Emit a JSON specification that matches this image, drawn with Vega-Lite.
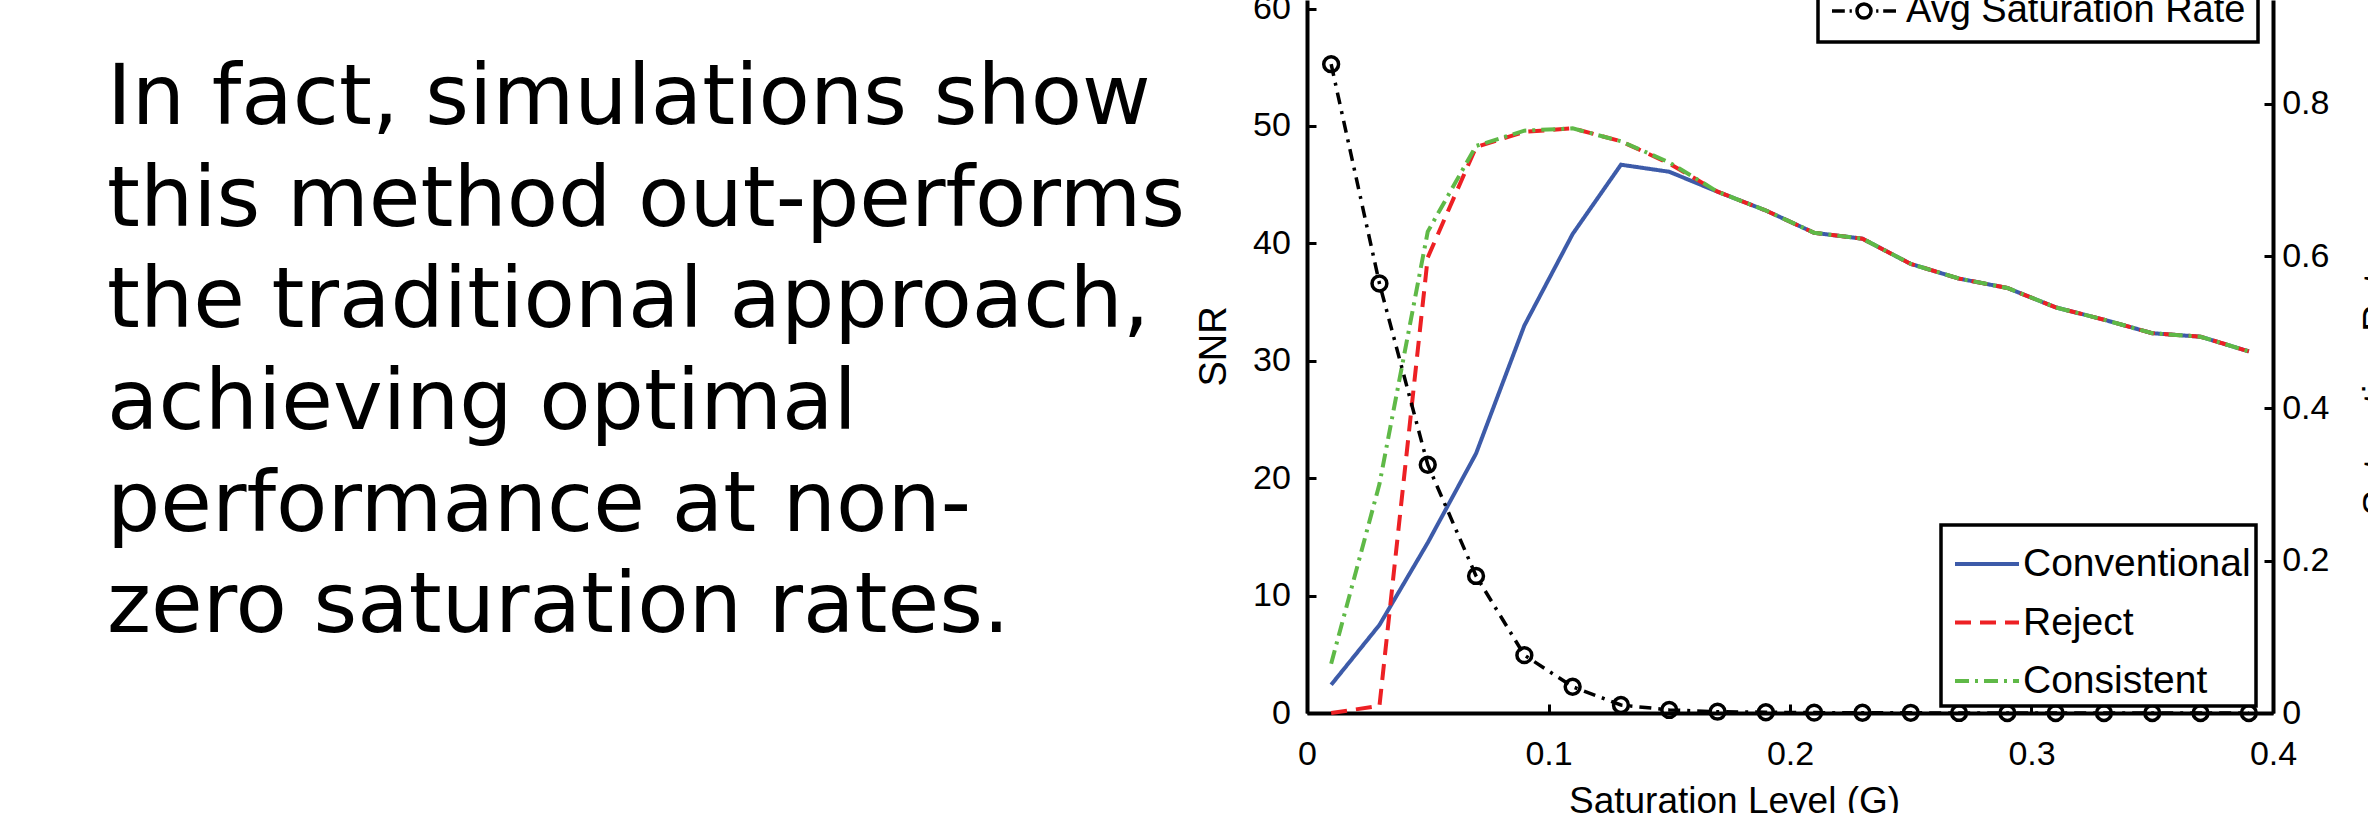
{
  "$schema": "https://vega.github.io/schema/vega-lite/v6.json",
  "width": 966,
  "height": 713,
  "autosize": {"type": "none"},
  "padding": {"left": 1307, "top": 0, "right": 95, "bottom": 100},
  "background": "white",
  "config": {"view": {"stroke": null}, "font": "Liberation Sans"},
  "title": {
    "text": ["In fact, simulations show", "this method out-performs", "the traditional approach,", "achieving optimal", "performance at non-", "zero saturation rates."],
    "anchor": "start",
    "frame": "group",
    "orient": "top",
    "offset": 0,
    "dx": -1200,
    "dy": 687,
    "baseline": "top",
    "font": "DejaVu Sans",
    "fontSize": 84,
    "fontWeight": "normal",
    "color": "black",
    "lineHeight": 101.6
  },
  "datasets": {
    "snr": [
      {"x": 0.01, "series": "Conventional", "snr": 2.4},
      {"x": 0.03, "series": "Conventional", "snr": 7.5},
      {"x": 0.05, "series": "Conventional", "snr": 14.5},
      {"x": 0.07, "series": "Conventional", "snr": 22.1},
      {"x": 0.09, "series": "Conventional", "snr": 33.0},
      {"x": 0.11, "series": "Conventional", "snr": 40.8},
      {"x": 0.13, "series": "Conventional", "snr": 46.7},
      {"x": 0.15, "series": "Conventional", "snr": 46.1},
      {"x": 0.17, "series": "Conventional", "snr": 44.4},
      {"x": 0.19, "series": "Conventional", "snr": 42.8},
      {"x": 0.21, "series": "Conventional", "snr": 40.9},
      {"x": 0.23, "series": "Conventional", "snr": 40.4},
      {"x": 0.25, "series": "Conventional", "snr": 38.25},
      {"x": 0.27, "series": "Conventional", "snr": 37.0},
      {"x": 0.29, "series": "Conventional", "snr": 36.2},
      {"x": 0.31, "series": "Conventional", "snr": 34.55},
      {"x": 0.33, "series": "Conventional", "snr": 33.5},
      {"x": 0.35, "series": "Conventional", "snr": 32.35},
      {"x": 0.37, "series": "Conventional", "snr": 32.05},
      {"x": 0.39, "series": "Conventional", "snr": 30.8},
      {"x": 0.01, "series": "Reject", "snr": 0.0},
      {"x": 0.03, "series": "Reject", "snr": 0.6},
      {"x": 0.05, "series": "Reject", "snr": 38.8},
      {"x": 0.07, "series": "Reject", "snr": 48.2},
      {"x": 0.09, "series": "Reject", "snr": 49.5},
      {"x": 0.11, "series": "Reject", "snr": 49.8},
      {"x": 0.13, "series": "Reject", "snr": 48.7},
      {"x": 0.15, "series": "Reject", "snr": 46.8},
      {"x": 0.17, "series": "Reject", "snr": 44.4},
      {"x": 0.19, "series": "Reject", "snr": 42.8},
      {"x": 0.21, "series": "Reject", "snr": 40.9},
      {"x": 0.23, "series": "Reject", "snr": 40.4},
      {"x": 0.25, "series": "Reject", "snr": 38.25},
      {"x": 0.27, "series": "Reject", "snr": 37.0},
      {"x": 0.29, "series": "Reject", "snr": 36.2},
      {"x": 0.31, "series": "Reject", "snr": 34.55},
      {"x": 0.33, "series": "Reject", "snr": 33.5},
      {"x": 0.35, "series": "Reject", "snr": 32.35},
      {"x": 0.37, "series": "Reject", "snr": 32.05},
      {"x": 0.39, "series": "Reject", "snr": 30.8},
      {"x": 0.01, "series": "Consistent", "snr": 4.2},
      {"x": 0.03, "series": "Consistent", "snr": 19.5},
      {"x": 0.05, "series": "Consistent", "snr": 41.0},
      {"x": 0.07, "series": "Consistent", "snr": 48.3},
      {"x": 0.09, "series": "Consistent", "snr": 49.6},
      {"x": 0.11, "series": "Consistent", "snr": 49.8},
      {"x": 0.13, "series": "Consistent", "snr": 48.7},
      {"x": 0.15, "series": "Consistent", "snr": 46.9},
      {"x": 0.17, "series": "Consistent", "snr": 44.4},
      {"x": 0.19, "series": "Consistent", "snr": 42.8},
      {"x": 0.21, "series": "Consistent", "snr": 40.9},
      {"x": 0.23, "series": "Consistent", "snr": 40.4},
      {"x": 0.25, "series": "Consistent", "snr": 38.25},
      {"x": 0.27, "series": "Consistent", "snr": 37.0},
      {"x": 0.29, "series": "Consistent", "snr": 36.2},
      {"x": 0.31, "series": "Consistent", "snr": 34.55},
      {"x": 0.33, "series": "Consistent", "snr": 33.5},
      {"x": 0.35, "series": "Consistent", "snr": 32.35},
      {"x": 0.37, "series": "Consistent", "snr": 32.05},
      {"x": 0.39, "series": "Consistent", "snr": 30.8}
    ],
    "rate": [
      {"x": 0.01, "series": "Avg Saturation Rate", "rate": 0.852},
      {"x": 0.03, "series": "Avg Saturation Rate", "rate": 0.564},
      {"x": 0.05, "series": "Avg Saturation Rate", "rate": 0.326},
      {"x": 0.07, "series": "Avg Saturation Rate", "rate": 0.180},
      {"x": 0.09, "series": "Avg Saturation Rate", "rate": 0.076},
      {"x": 0.11, "series": "Avg Saturation Rate", "rate": 0.0345},
      {"x": 0.13, "series": "Avg Saturation Rate", "rate": 0.0105},
      {"x": 0.15, "series": "Avg Saturation Rate", "rate": 0.004},
      {"x": 0.17, "series": "Avg Saturation Rate", "rate": 0.0017},
      {"x": 0.19, "series": "Avg Saturation Rate", "rate": 0.001},
      {"x": 0.21, "series": "Avg Saturation Rate", "rate": 0.0005},
      {"x": 0.23, "series": "Avg Saturation Rate", "rate": 0.0003},
      {"x": 0.25, "series": "Avg Saturation Rate", "rate": 0.0002},
      {"x": 0.27, "series": "Avg Saturation Rate", "rate": 0.0001},
      {"x": 0.29, "series": "Avg Saturation Rate", "rate": 0.0},
      {"x": 0.31, "series": "Avg Saturation Rate", "rate": 0.0},
      {"x": 0.33, "series": "Avg Saturation Rate", "rate": 0.0},
      {"x": 0.35, "series": "Avg Saturation Rate", "rate": 0.0},
      {"x": 0.37, "series": "Avg Saturation Rate", "rate": 0.0},
      {"x": 0.39, "series": "Avg Saturation Rate", "rate": 0.0}
    ]
  },
  "layer": [
    {
      "data": {"name": "snr"},
      "mark": {"type": "line", "strokeWidth": 4},
      "encoding": {
        "x": {
          "field": "x", "type": "quantitative",
          "scale": {"domain": [0, 0.4], "nice": false, "zero": false},
          "axis": {
            "values": [0, 0.1, 0.2, 0.3, 0.4], "format": "~g",
            "title": "Saturation Level (G)", "titleFont": "Liberation Sans", "titleFontSize": 37, "titleFontWeight": "normal", "titleColor": "black",
            "titleX": 427, "titleY": 99, "titleAlign": "center", "titleBaseline": "alphabetic", "titleAnchor": null,
            "labelFont": "Liberation Sans", "labelFontSize": 34, "labelColor": "black", "labelPadding": 33.5, "labelFlush": false, "labelOverlap": false,
            "tickSize": -9, "tickWidth": 3, "tickColor": "black",
            "domainColor": "black", "domainWidth": 4, "grid": false
          }
        },
        "y": {
          "field": "snr", "type": "quantitative",
          "scale": {"domain": [0, 60.73], "nice": false, "zero": false},
          "axis": {
            "values": [0, 10, 20, 30, 40, 50, 60], "format": "d",
            "title": "SNR", "titleFont": "Liberation Sans", "titleFontSize": 38, "titleFontWeight": "normal", "titleColor": "black",
            "titleAngle": 270, "titleX": -82, "titleY": 346, "titleAlign": "center", "titleBaseline": "alphabetic",
            "labelFont": "Liberation Sans", "labelFontSize": 34, "labelColor": "black", "labelPadding": 25.7, "labelFlush": false, "labelOverlap": false,
            "tickSize": -9, "tickWidth": 3, "tickColor": "black",
            "domainColor": "black", "domainWidth": 4, "grid": false
          }
        },
        "color": {
          "field": "series", "type": "nominal",
          "scale": {"domain": ["Conventional", "Reject", "Consistent"], "range": ["#3d5ba9", "#ed2024", "#5fb947"]},
          "legend": {
            "orient": "none", "legendX": 634, "legendY": 525, "title": null,
            "symbolType": "stroke", "symbolSize": 4096, "symbolStrokeWidth": 4, "symbolOffset": 7,
            "labelFont": "Liberation Sans", "labelFontSize": 39, "labelColor": "black", "labelLimit": 600, "labelOffset": 2,
            "padding": 5, "rowPadding": 4.5,
            "strokeColor": "black", "fillColor": "white",
            "encode": {"legend": {"update": {"strokeWidth": {"value": 3.5}}}}
          }
        },
        "strokeDash": {
          "field": "series", "type": "nominal",
          "scale": {"domain": ["Conventional", "Reject", "Consistent"], "range": [[1, 0], [16, 9], [14, 6, 3, 6]]},
          "legend": {
            "orient": "none", "legendX": 634, "legendY": 525, "title": null,
            "symbolType": "stroke", "symbolSize": 4096, "symbolStrokeWidth": 4, "symbolOffset": 7,
            "labelFont": "Liberation Sans", "labelFontSize": 39, "labelColor": "black", "labelLimit": 600, "labelOffset": 2,
            "padding": 5, "rowPadding": 4.5,
            "strokeColor": "black", "fillColor": "white",
            "encode": {"legend": {"update": {"strokeWidth": {"value": 3.5}}}}
          }
        }
      }
    },
    {
      "data": {"name": "rate"},
      "encoding": {
        "x": {"field": "x", "type": "quantitative", "scale": {"domain": [0, 0.4], "nice": false, "zero": false}},
        "y": {
          "field": "rate", "type": "quantitative",
          "scale": {"domain": [0, 0.9363], "nice": false, "zero": false},
          "axis": {
            "orient": "right",
            "values": [0, 0.2, 0.4, 0.6, 0.8], "format": "~g",
            "title": "Saturation Rate", "titleFont": "Liberation Sans", "titleFontSize": 38, "titleFontWeight": "normal", "titleColor": "black",
            "titleAngle": 270, "titleX": 116, "titleY": 383, "titleAlign": "center", "titleBaseline": "alphabetic",
            "labelFont": "Liberation Sans", "labelFontSize": 34, "labelColor": "black", "labelPadding": 17.7, "labelFlush": false, "labelOverlap": false,
            "tickSize": -9, "tickWidth": 3, "tickColor": "black",
            "domainColor": "black", "domainWidth": 4, "grid": false
          }
        }
      },
      "layer": [
        {
          "mark": {"type": "line", "strokeWidth": 3.5, "strokeDash": [12, 7, 3, 7], "color": "black"},
          "encoding": {
            "color": {
              "field": "series", "type": "nominal",
              "scale": {"domain": ["Avg Saturation Rate"], "range": ["black"]},
              "legend": {
                "orient": "none", "legendX": 511, "legendY": -35, "title": null,
                "symbolType": "M-1,0H-0.6M-0.45,0H-0.38M0.22,0A0.22,0.22,0,1,1,-0.22,0A0.22,0.22,0,1,1,0.22,0M0.38,0H0.45M0.6,0H1",
                "symbolSize": 4096, "symbolStrokeWidth": 3.5, "symbolFillColor": "transparent",
                "labelFont": "Liberation Sans", "labelFontSize": 38, "labelColor": "black", "labelLimit": 600, "labelOffset": 8,
                "padding": 12,
                "strokeColor": "black", "fillColor": "white",
                "encode": {"legend": {"update": {"strokeWidth": {"value": 3.5}}}}
              }
            }
          }
        },
        {
          "mark": {"type": "point", "shape": "circle", "filled": false, "size": 220, "strokeWidth": 3.5, "color": "black", "opacity": 1}
        }
      ]
    }
  ],
  "resolve": {
    "scale": {"y": "independent", "color": "independent", "strokeDash": "independent"},
    "axis": {"y": "independent"},
    "legend": {"color": "independent", "strokeDash": "independent"}
  }
}
